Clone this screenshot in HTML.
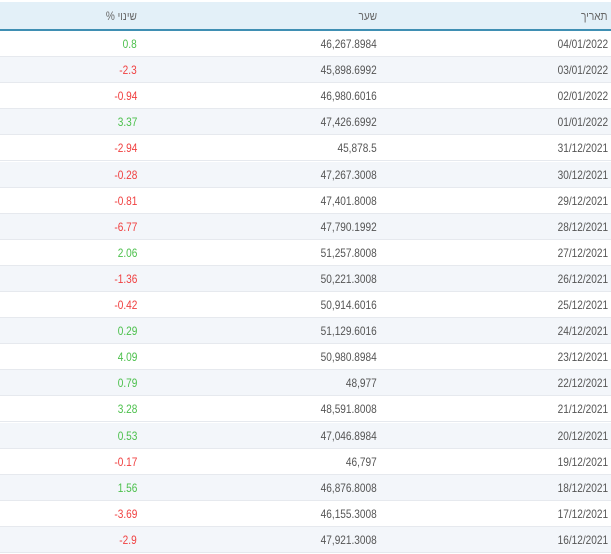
<!DOCTYPE html>
<html><head><meta charset="utf-8"><style>
body{margin:0;width:611px;height:554px;background:#fff;position:relative;overflow:hidden;font-family:"Liberation Sans","Noto Sans CJK JP",sans-serif;}
.hd{position:absolute;left:0;top:2px;width:611px;height:27px;background:#e3f0f8;border-bottom:2px solid #3f8fb3;}
.r{position:absolute;left:0;width:611px;height:25px;border-bottom:1px solid #e6e9ee;}
.r.o{background:#f3f6fa;}
.t{position:absolute;font-size:12px;color:#555;white-space:nowrap;transform:scaleX(0.84);transform-origin:right center;line-height:26px;top:0;}
.a{right:3px}.b{right:234px}.c{right:474px}
.g{color:#4cc04c}.n{color:#f04040}
</style></head><body>
<div class="hd">
<span class="t a" style="line-height:28px;color:#666">תאריך</span>
<span class="t b" style="line-height:28px;color:#666">שער</span>
<span class="t c" style="line-height:28px;color:#666">% שינוי</span>
</div>
<div class="r" style="top:31px"><span class="t a">04/01/2022</span><span class="t b">46,267.8984</span><span class="t c g">0.8</span></div>
<div class="r o" style="top:57.1px"><span class="t a">03/01/2022</span><span class="t b">45,898.6992</span><span class="t c n">-2.3</span></div>
<div class="r" style="top:83.2px"><span class="t a">02/01/2022</span><span class="t b">46,980.6016</span><span class="t c n">-0.94</span></div>
<div class="r o" style="top:109.3px"><span class="t a">01/01/2022</span><span class="t b">47,426.6992</span><span class="t c g">3.37</span></div>
<div class="r" style="top:135.4px"><span class="t a">31/12/2021</span><span class="t b">45,878.5</span><span class="t c n">-2.94</span></div>
<div class="r o" style="top:161.5px"><span class="t a">30/12/2021</span><span class="t b">47,267.3008</span><span class="t c n">-0.28</span></div>
<div class="r" style="top:187.6px"><span class="t a">29/12/2021</span><span class="t b">47,401.8008</span><span class="t c n">-0.81</span></div>
<div class="r o" style="top:213.7px"><span class="t a">28/12/2021</span><span class="t b">47,790.1992</span><span class="t c n">-6.77</span></div>
<div class="r" style="top:239.8px"><span class="t a">27/12/2021</span><span class="t b">51,257.8008</span><span class="t c g">2.06</span></div>
<div class="r o" style="top:265.9px"><span class="t a">26/12/2021</span><span class="t b">50,221.3008</span><span class="t c n">-1.36</span></div>
<div class="r" style="top:292px"><span class="t a">25/12/2021</span><span class="t b">50,914.6016</span><span class="t c n">-0.42</span></div>
<div class="r o" style="top:318.1px"><span class="t a">24/12/2021</span><span class="t b">51,129.6016</span><span class="t c g">0.29</span></div>
<div class="r" style="top:344.2px"><span class="t a">23/12/2021</span><span class="t b">50,980.8984</span><span class="t c g">4.09</span></div>
<div class="r o" style="top:370.3px"><span class="t a">22/12/2021</span><span class="t b">48,977</span><span class="t c g">0.79</span></div>
<div class="r" style="top:396.4px"><span class="t a">21/12/2021</span><span class="t b">48,591.8008</span><span class="t c g">3.28</span></div>
<div class="r o" style="top:422.5px"><span class="t a">20/12/2021</span><span class="t b">47,046.8984</span><span class="t c g">0.53</span></div>
<div class="r" style="top:448.6px"><span class="t a">19/12/2021</span><span class="t b">46,797</span><span class="t c n">-0.17</span></div>
<div class="r o" style="top:474.7px"><span class="t a">18/12/2021</span><span class="t b">46,876.8008</span><span class="t c g">1.56</span></div>
<div class="r" style="top:500.8px"><span class="t a">17/12/2021</span><span class="t b">46,155.3008</span><span class="t c n">-3.69</span></div>
<div class="r o" style="top:526.9px"><span class="t a">16/12/2021</span><span class="t b">47,921.3008</span><span class="t c n">-2.9</span></div>
</body></html>
